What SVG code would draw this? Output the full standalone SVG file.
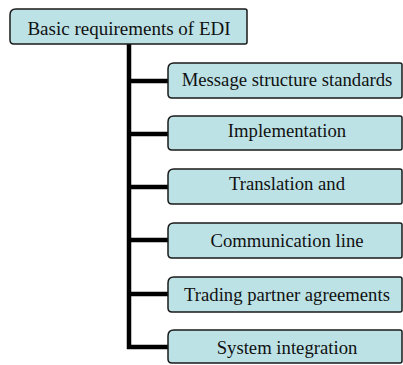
<svg xmlns="http://www.w3.org/2000/svg" width="403" height="365" viewBox="0 0 403 365">
<style>
.box{fill:#BCE2E6;stroke:#1a1a1a;stroke-width:1.5}
.t{font-family:"Liberation Serif","Times New Roman",serif;font-size:18.7px;fill:#111;text-anchor:middle}
.c{fill:none;stroke:#000;stroke-width:4.5}
</style>
<g id="connectors">
<path class="c" d="M129 44 V347 H168"/>
<path class="c" d="M129 81 H168 M129 134 H168 M129 187 H168 M129 240 H168 M129 294 H168"/>
</g>
<g id="root">
<path class="box" d="M16 9 H245 Q247 9 247 11 V42 Q247 44 245 44 H14 Q10 44 10 40 V15 Q10 9 16 9 Z"/>
<text class="t" x="129" y="35" style="font-size:19px">Basic requirements of EDI</text>
</g>
<g id="n1">
<path class="box" d="M174 63 H400 Q402 63 402 65 V96 Q402 98 400 98 H172 Q168 98 168 94 V69 Q168 63 174 63 Z"/>
<text class="t" x="287" y="86">Message structure standards</text>
</g>
<g id="n2">
<path class="box" d="M174 116 H400 Q402 116 402 118 V148 Q402 150 400 150 H172 Q168 150 168 146 V122 Q168 116 174 116 Z"/>
<text class="t" x="287" y="137">Implementation</text>
</g>
<g id="n3">
<path class="box" d="M174 169 H400 Q402 169 402 171 V202 Q402 204 400 204 H172 Q168 204 168 200 V175 Q168 169 174 169 Z"/>
<text class="t" x="287" y="190">Translation and</text>
</g>
<g id="n4">
<path class="box" d="M174 223 H400 Q402 223 402 225 V256 Q402 258 400 258 H172 Q168 258 168 254 V229 Q168 223 174 223 Z"/>
<text class="t" x="287" y="247">Communication line</text>
</g>
<g id="n5">
<path class="box" d="M174 277 H400 Q402 277 402 279 V310 Q402 312 400 312 H172 Q168 312 168 308 V283 Q168 277 174 277 Z"/>
<text class="t" x="287" y="301">Trading partner agreements</text>
</g>
<g id="n6">
<path class="box" d="M174 330 H400 Q402 330 402 332 V361 Q402 363 400 363 H172 Q168 363 168 359 V336 Q168 330 174 330 Z"/>
<text class="t" x="287" y="354">System integration</text>
</g>
</svg>
